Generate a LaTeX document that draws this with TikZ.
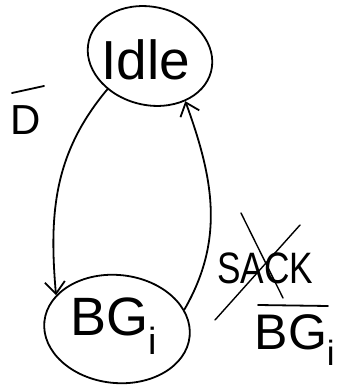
\documentclass[tikz,border=0pt]{standalone}
\usepackage{fontspec}
\setmainfont{Liberation Sans}
\usetikzlibrary{shapes.geometric,arrows.meta}
\begin{document}
\begin{tikzpicture}[x=1pt,y=-1pt,line cap=round,line join=round,
  pen/.style={line width=1.8pt,black},
  statebox/.style={pen,draw,ellipse,inner sep=0pt},
  edgearrow/.style={pen,-{Straight Barb[length=12pt,width=20pt,line width=1.8pt]}},
  handtext/.style={inner sep=0pt,font=#1},
]
\useasboundingbox (0,0) rectangle (338,387);

% states
\node[statebox,minimum width=126pt,minimum height=98pt,rotate=-14] (idle) at (150,56) {};
\node[handtext={\fontsize{55}{55}\selectfont}] (idletext) at (146,60) {Idle};
\node[statebox,minimum width=146pt,minimum height=108pt,rotate=-6] (bg) at (117,329) {};
\node[handtext={\fontsize{54}{54}\selectfont}] (bgtext) at (114,326) {BG\textsubscript{i}};

% transitions
\draw[edgearrow] (idle.232) to[out=230,in=95] (bg.157);
\draw[edgearrow] (bg.22) to[out=60,in=-70] (idle.-38);

% label of the Idle -> BG_i transition
\node[handtext={\fontsize{42}{42}\selectfont}] (dlab) at (26,120) {D};
\draw[pen] ([shift={(-14,-27)}]dlab.center) -- ([shift={(18,-34)}]dlab.center);

% label of the BG_i -> Idle transition
\node[handtext={\fontsize{44}{44}\selectfont},xscale=0.8,transform shape] (sack) at (265,268) {SACK};
\draw[pen,line width=1.4pt] ([shift={(-24,-55)}]sack.center) -- ([shift={(18,30)}]sack.center);
\draw[pen,line width=1.4pt] ([shift={(-50,52)}]sack.center) -- ([shift={(35,-43)}]sack.center);
\node[handtext={\fontsize{50}{50}\selectfont}] (bglab) at (295,340) {BG\textsubscript{i}};
\draw[pen] ([shift={(-37,-35)}]bglab.center) -- ([shift={(33,-34)}]bglab.center);
\end{tikzpicture}
\end{document}
